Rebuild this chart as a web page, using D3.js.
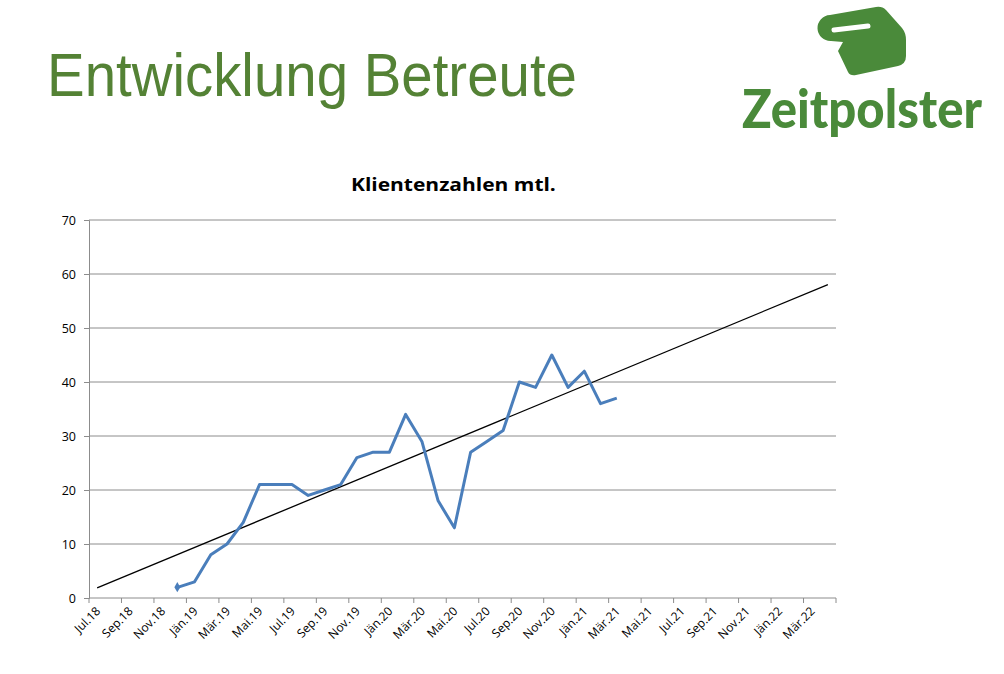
<!DOCTYPE html>
<html>
<head>
<meta charset="utf-8">
<script src="https://cdn.jsdelivr.net/npm/d3@7"></script>
<style>
  html, body { margin: 0; padding: 0; background: #ffffff; }
  svg { display: block; }
</style>
</head>
<body>
<svg id="chart" width="1004" height="674"></svg>
<script>
// ---- data ----
const allMonths = ["Jul.18","Aug.18","Sep.18","Okt.18","Nov.18","Dez.18",
  "Jän.19","Feb.19","Mär.19","Apr.19","Mai.19","Jun.19","Jul.19","Aug.19","Sep.19","Okt.19","Nov.19","Dez.19",
  "Jän.20","Feb.20","Mär.20","Apr.20","Mai.20","Jun.20","Jul.20","Aug.20","Sep.20","Okt.20","Nov.20","Dez.20",
  "Jän.21","Feb.21","Mär.21","Apr.21","Mai.21","Jun.21","Jul.21","Aug.21","Sep.21","Okt.21","Nov.21","Dez.21",
  "Jän.22","Feb.22","Mär.22","Apr.22"];
const tickLabels = ["Jul.18","Sep.18","Nov.18","Jän.19","Mär.19","Mai.19","Jul.19","Sep.19","Nov.19",
  "Jän.20","Mär.20","Mai.20","Jul.20","Sep.20","Nov.20","Jän.21","Mär.21","Mai.21","Jul.21","Sep.21",
  "Nov.21","Jän.22","Mär.22"];
const dataMonths = ["Dez.18","Jän.19","Feb.19","Mär.19","Apr.19","Mai.19","Jun.19","Jul.19","Aug.19","Sep.19",
  "Okt.19","Nov.19","Dez.19","Jän.20","Feb.20","Mär.20","Apr.20","Mai.20","Jun.20","Jul.20","Aug.20",
  "Sep.20","Okt.20","Nov.20","Dez.20","Jän.21","Feb.21","Mär.21"];
const clients = [2,3,8,10,14,21,21,21,19,20,21,26,27,27,34,29,18,13,27,29,31,40,39,45,39,42,36,37];
const yTicks = [0,10,20,30,40,50,60,70];

const pageTitle = "Entwicklung Betreute";
const chartTitle = "Klientenzahlen mtl.";
const brand = "Zeitpolster";

// ---- layout ----
const svg = d3.select("#chart");
const pLeft = 89, pRight = 836, pTop = 220, pBottom = 598;

const x = d3.scaleBand(allMonths, [pLeft, pRight]).padding(0);
const bw = x.bandwidth();
const cx = m => x(m) + bw / 2;
const y = d3.scaleLinear([0, 70], [pBottom, pTop]);

// helper: fit text horizontally to a width by scaling
function fitText(g, width) {
  const t = g.select("text");
  const w = t.node().getComputedTextLength();
  t.attr("transform", `scale(${width / w},1)`);
}

// page title
const titleG = svg.append("g").attr("transform", "translate(47,96)");
titleG.append("text")
  .attr("font-family", "Liberation Sans, Arial, sans-serif")
  .attr("font-size", 61)
  .attr("fill", "#548235")
  .text(pageTitle);
fitText(titleG, 530);

// logo
const logoGreen = "#4a8a3a";
const logo = svg.append("g");
logo.append("path")
  .attr("d", "M830,15 L876,7 Q882,6 886,10 L902,28 Q906,33 906,40 L906,56 Q906,64 898,66 L856,75 Q850,76 848,72 L838,51 L843,42 L831,41 A13,13 0 0 1 830,15 Z")
  .attr("fill", logoGreen);
logo.append("path")
  .attr("d", "M834,30 L868,26")
  .attr("stroke", "#fff").attr("stroke-width", 5).attr("stroke-linecap", "round").attr("fill", "none");
const brandG = logo.append("g").attr("transform", "translate(742,128)");
brandG.append("text")
  .attr("font-family", "Lato, Open Sans, sans-serif")
  .attr("font-weight", 900)
  .attr("font-size", 54)
  .attr("fill", logoGreen)
  .text(brand);
fitText(brandG, 240);

// chart title
const ctG = svg.append("g").attr("transform", "translate(351,191)");
ctG.append("text")
  .attr("font-family", "Open Sans, sans-serif")
  .attr("font-weight", "bold")
  .attr("font-size", 17)
  .attr("fill", "#000")
  .text(chartTitle);
fitText(ctG, 205);

// gridlines
const grid = "#8c8c8c";
svg.append("g").selectAll("line").data(yTicks.filter(d => d > 0)).join("line")
  .attr("x1", pLeft).attr("x2", pRight)
  .attr("y1", d => y(d)).attr("y2", d => y(d))
  .attr("stroke", grid).attr("stroke-width", 1);

// y axis
const yAxis = svg.append("g").attr("transform", `translate(${pLeft},0)`)
  .call(d3.axisLeft(y).tickValues(yTicks).tickSize(5).tickPadding(8));
yAxis.select(".domain").attr("stroke", grid);
yAxis.selectAll(".tick line").attr("stroke", grid);
yAxis.selectAll("text").attr("font-family", "Open Sans, sans-serif").attr("font-size", 12.5).attr("fill", "#000");

// x axis
const xAxisG = svg.append("g");
xAxisG.append("line").attr("x1", pLeft).attr("x2", pRight).attr("y1", pBottom).attr("y2", pBottom)
  .attr("stroke", grid);
const tickPos = tickLabels.map(m => x(m)).concat([pRight]);
xAxisG.selectAll("line.t").data(tickPos).join("line").attr("class", "t")
  .attr("x1", d => d).attr("x2", d => d).attr("y1", pBottom).attr("y2", pBottom + 5)
  .attr("stroke", grid);
xAxisG.selectAll("text").data(tickLabels).join("text")
  .attr("transform", m => `translate(${cx(m) + 1},${pBottom + 11}) rotate(-45)`)
  .attr("text-anchor", "end")
  .attr("dy", "0.35em")
  .attr("font-family", "Open Sans, sans-serif")
  .attr("font-size", 12)
  .attr("fill", "#000")
  .text(m => m);

// trend line (linear regression over month index)
const idx = dataMonths.map(m => allMonths.indexOf(m));
const mx = d3.mean(idx), my = d3.mean(clients);
const slope = d3.sum(idx, (k, i) => (k - mx) * (clients[i] - my)) / d3.sum(idx, k => (k - mx) * (k - mx));
const icpt = my - slope * mx;
const trendPts = [allMonths[0], allMonths[allMonths.length - 1]].map(m => [cx(m), y(icpt + slope * allMonths.indexOf(m))]);
svg.append("path")
  .attr("d", d3.line()(trendPts))
  .attr("stroke", "#000").attr("stroke-width", 1.3).attr("fill", "none");

// data line
const pts = dataMonths.map((m, i) => [cx(m), y(clients[i])]);
svg.append("path")
  .attr("d", d3.line()(pts))
  .attr("stroke", "#4a7ebb").attr("stroke-width", 3).attr("fill", "none")
  .attr("stroke-linejoin", "round");
svg.append("path")
  .attr("d", d3.symbol(d3.symbolDiamond, 30)())
  .attr("transform", `translate(${pts[0][0] - 1},${pts[0][1]})`)
  .attr("fill", "#4a7ebb");
</script>
</body>
</html>
